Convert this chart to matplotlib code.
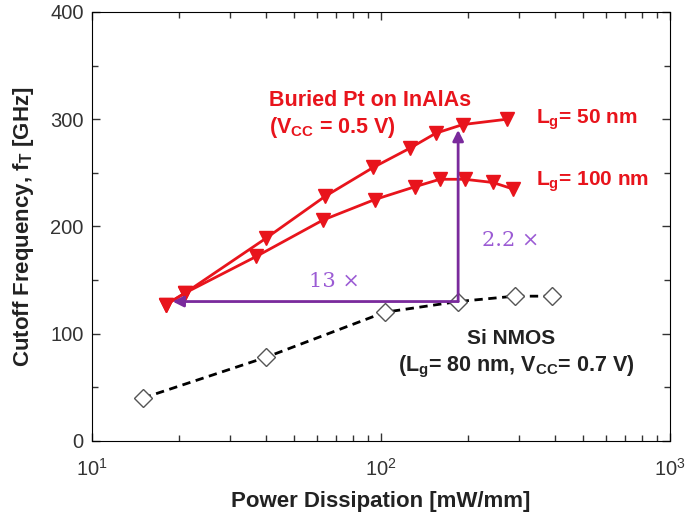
import matplotlib
matplotlib.use("Agg")
import matplotlib.pyplot as plt

plt.rcParams['font.family'] = ['Liberation Sans', 'DejaVu Sans']
plt.rcParams['mathtext.fontset'] = 'custom'
plt.rcParams['mathtext.rm'] = 'Liberation Sans'
plt.rcParams['mathtext.bf'] = 'Liberation Sans:bold'

# Data
lg50_power = [18, 21, 40, 64, 94, 126, 155, 192, 273]
lg50_ft = [127, 138, 189, 228, 255, 273, 287, 295, 300]

lg100_power = [18, 21, 37, 63, 95, 131, 160, 195, 244, 286]
lg100_ft = [127, 138, 172, 206, 225, 237, 244, 244, 241, 235]

si_power = [15, 40, 103, 185, 290, 390]
si_ft = [40, 78, 120, 130, 135, 135]

# arrows: start (Si point) -> ends
arrow_start = (185, 130)
arrow_h_end = (19, 130)
arrow_v_end = (185, 290)

red = '#e8141c'
purple = '#7a2a9c'
label_purple = '#9b5bd4'
dark = '#222222'

fig = plt.figure(figsize=(6.92, 5.2), dpi=100)
ax = fig.add_axes([0.133, 0.152, 0.835, 0.825])

ax.plot(si_power, si_ft, '--', color='black', lw=2, dashes=(3, 2),
        marker='D', ms=9, mfc='white', mec='#555555', mew=1)
ax.plot(lg100_power, lg100_ft, '-', color=red, lw=2, marker='v', ms=10, mec=red)
ax.plot(lg50_power, lg50_ft, '-', color=red, lw=2, marker='v', ms=10, mec=red)

arrow_props = dict(arrowstyle='-|>', color=purple, lw=2, mutation_scale=16,
                   shrinkA=0, shrinkB=0)
ax.annotate('', xy=arrow_h_end, xytext=arrow_start, arrowprops=arrow_props)
ax.annotate('', xy=arrow_v_end, xytext=arrow_start, arrowprops=arrow_props)

ax.text(69, 149, '13 ×', color=label_purple, fontsize=15, family='DejaVu Serif',
        ha='center', va='center')
ax.text(282, 187, '2.2 ×', color=label_purple, fontsize=15, family='DejaVu Serif',
        ha='center', va='center')

ax.text(41, 317, 'Buried Pt on InAlAs', color=red, fontsize=15.5, fontweight='bold',
        ha='left', va='center')
ax.text(41, 292, r'(V$_{\mathbf{CC}}$ = 0.5 V)', color=red, fontsize=15.5,
        fontweight='bold', ha='left', va='center')
ax.text(345, 300, r'L$_{\mathbf{g}}$= 50 nm', color=red, fontsize=15,
        fontweight='bold', ha='left', va='center')
ax.text(345, 242, r'L$_{\mathbf{g}}$= 100 nm', color=red, fontsize=15,
        fontweight='bold', ha='left', va='center')

ax.text(282, 96, 'Si NMOS', color=dark, fontsize=15, fontweight='bold',
        ha='center', va='center')
ax.text(293, 69, r'(L$_{\mathbf{g}}$= 80 nm, V$_{\mathbf{CC}}$= 0.7 V)', color=dark,
        fontsize=15.5, fontweight='bold', ha='center', va='center')

ax.set_xscale('log')
ax.set_xlim(10, 1000)
ax.set_ylim(0, 400)
ax.set_yticks([0, 100, 200, 300, 400])
ax.set_yticks([50, 150, 250, 350], minor=True)
ax.tick_params(which='both', direction='in', top=True, right=True, labelsize=14.5,
               colors='#333333')
ax.tick_params(which='major', length=6, width=1)
ax.tick_params(which='minor', length=4, width=1)
ax.tick_params(axis='x', pad=12)
ax.tick_params(axis='y', pad=6)

ax.set_xlabel('Power Dissipation [mW/mm]', fontsize=16, fontweight='bold',
              labelpad=8, color=dark)
ax.set_ylabel(r'Cutoff Frequency, f$_{\mathbf{T}}$ [GHz]', fontsize=16,
              fontweight='bold', labelpad=10, color=dark)

fig.savefig('out.png', dpi=100)
